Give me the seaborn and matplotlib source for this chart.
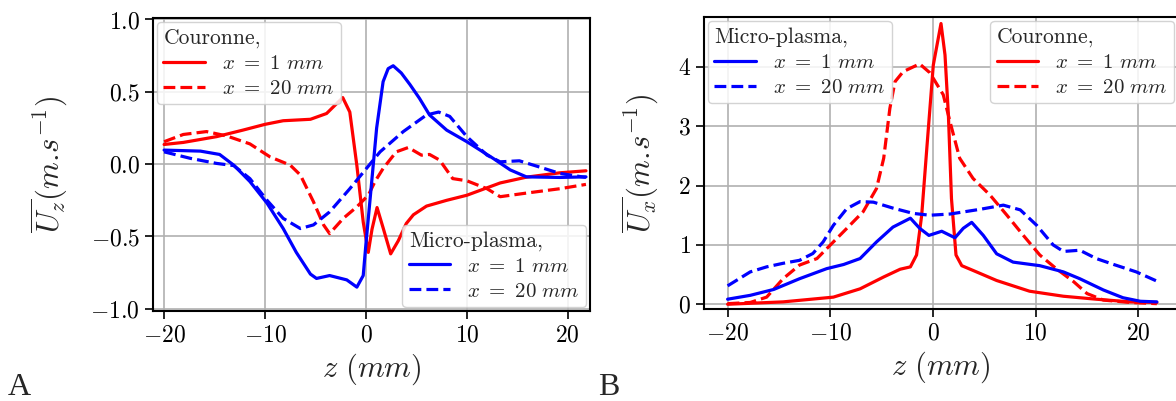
import matplotlib
matplotlib.use("Agg")
import matplotlib.pyplot as plt
import seaborn as sns
import pandas as pd

# ---- panel A : mean axial velocity U_z ----
z_a_cour1 = [-20, -18.1, -14.8, -12.2, -10.0, -8.2, -5.5, -3.9, -2.3, -1.6, -0.9, -0.27,
             0.23, 0.6, 1.1, 1.7, 2.45, 3.2, 4.0, 4.7, 6.0, 8.0, 10.0, 13.3, 15.9, 19.2, 21.8]
u_a_cour1 = [0.136, 0.15, 0.19, 0.235, 0.275, 0.30, 0.31, 0.35, 0.46, 0.36, -0.01, -0.40,
             -0.61, -0.45, -0.30, -0.44, -0.62, -0.53, -0.41, -0.35, -0.29, -0.25, -0.215,
             -0.13, -0.09, -0.06, -0.046]

z_a_cour20 = [-20, -18.1, -15.8, -13.8, -11.5, -9.5, -7.5, -6.5, -5.2, -4.2, -3.6, -2.25,
              -0.9, 0.23, 0.9, 1.7, 3.0, 4.2, 5.5, 6.3, 7.3, 8.6, 10.0, 12.0, 13.3, 15.9,
              19.2, 21.8]
u_a_cour20 = [0.155, 0.205, 0.225, 0.195, 0.14, 0.05, -0.007, -0.075, -0.26, -0.42, -0.48,
              -0.375, -0.295, -0.215, -0.12, -0.03, 0.085, 0.115, 0.062, 0.067, 0.028, -0.10,
              -0.115, -0.17, -0.225, -0.20, -0.17, -0.14]

z_a_micro1 = [-20, -16.4, -14.5, -13.1, -11.5, -9.8, -8.2, -6.9, -5.5, -4.9, -3.6, -1.9,
              -0.9, -0.27, 0.0, 0.4, 1.06, 1.7, 2.2, 2.7, 3.5, 4.36, 5.3, 6.3, 8.0, 10.0,
              12.6, 14.3, 15.9, 19.2, 21.8]
u_a_micro1 = [0.097, 0.09, 0.067, -0.007, -0.12, -0.27, -0.445, -0.61, -0.76, -0.79, -0.77,
              -0.80, -0.85, -0.77, -0.55, -0.25, 0.25, 0.57, 0.66, 0.68, 0.63, 0.55, 0.455,
              0.34, 0.235, 0.155, 0.04, -0.04, -0.088, -0.092, -0.088]

z_a_micro20 = [-20, -17.4, -14.8, -13.1, -11.5, -9.8, -8.2, -6.5, -5.2, -3.6, -1.6, -0.6,
               0.4, 1.4, 3.7, 6.0, 7.2, 8.3, 10.0, 12.0, 13.3, 15.2, 17.2, 19.2, 21.8]
u_a_micro20 = [0.085, 0.04, 0.005, -0.01, -0.10, -0.25, -0.375, -0.445, -0.42, -0.33, -0.17,
               -0.085, 0.0, 0.085, 0.225, 0.34, 0.36, 0.33, 0.19, 0.062, 0.016, 0.023, -0.02,
               -0.064, -0.092]

# ---- panel B : mean radial velocity U_x ----
z_b_cour1 = [-20, -14.6, -9.7, -7.1, -4.8, -3.2, -2.2, -1.6, -1.1, -0.6, 0.03, 0.78, 1.17,
             1.5, 1.8, 2.24, 2.8, 3.9, 6.2, 9.4, 12.7, 15.9, 19.2, 21.8]
u_b_cour1 = [0.0, 0.04, 0.12, 0.26, 0.46, 0.59, 0.63, 0.83, 1.5, 2.63, 4.03, 4.73, 4.2,
             3.19, 1.78, 0.83, 0.65, 0.57, 0.40, 0.22, 0.135, 0.085, 0.04, 0.03]

z_b_cour20 = [-20, -17.8, -16.2, -14.6, -13.0, -11.3, -9.7, -8.1, -6.8, -5.5, -4.8, -4.2,
              -3.7, -2.9, -1.3, -0.3, 1.0, 1.65, 2.6, 3.9, 5.55, 7.2, 8.8, 10.4, 12.0, 13.7,
              15.0, 16.6, 19.2, 21.8]
u_b_cour20 = [0.01, 0.03, 0.12, 0.43, 0.66, 0.77, 1.05, 1.33, 1.56, 1.95, 2.46, 3.30, 3.75,
              3.92, 4.05, 3.90, 3.53, 3.08, 2.46, 2.12, 1.84, 1.5, 1.16, 0.83, 0.60, 0.38,
              0.18, 0.07, 0.03, 0.01]

z_b_micro1 = [-20, -17.8, -15.5, -13.0, -10.35, -8.7, -7.1, -5.5, -3.9, -2.2, -1.3, -0.4,
              0.85, 2.14, 2.95, 3.77, 4.9, 6.2, 7.8, 10.4, 12.7, 14.3, 16.6, 18.5, 20.2, 21.8]
u_b_micro1 = [0.085, 0.15, 0.25, 0.43, 0.60, 0.67, 0.77, 1.05, 1.30, 1.45, 1.28, 1.16, 1.23,
              1.12, 1.28, 1.38, 1.16, 0.85, 0.71, 0.65, 0.545, 0.43, 0.24, 0.11, 0.05, 0.04]

z_b_micro20 = [-20, -17.8, -16.2, -14.6, -13.0, -11.7, -10.7, -9.7, -8.4, -7.1, -5.8, -3.9,
               -1.9, -0.3, 1.65, 4.6, 6.85, 8.5, 10.1, 11.7, 12.7, 14.3, 15.9, 17.6, 19.8, 21.8]
u_b_micro20 = [0.31, 0.545, 0.63, 0.69, 0.74, 0.855, 1.05, 1.33, 1.61, 1.73, 1.72, 1.62,
               1.53, 1.50, 1.52, 1.60, 1.67, 1.59, 1.33, 1.0, 0.89, 0.91, 0.77, 0.67, 0.545,
               0.39]

LBL_1 = r"$x\ =\ 1\ mm$"
LBL_20 = r"$x\ =\ 20\ mm$"

sns.set_style("whitegrid")
plt.rcParams.update({
    "font.family": ["cmr10", "DejaVu Serif"],
    "mathtext.fontset": "cm",
    "axes.formatter.use_mathtext": True,
    "axes.unicode_minus": True,
    "axes.edgecolor": "black",
    "axes.linewidth": 1.5,
    "grid.color": "#b0b0b0",
    "grid.linewidth": 1.2,
    "xtick.bottom": True, "ytick.left": True,
    "xtick.major.size": 6, "ytick.major.size": 6,
    "xtick.major.width": 1.2, "ytick.major.width": 1.2,
    "xtick.color": "black", "ytick.color": "black",
    "xtick.labelsize": 17, "ytick.labelsize": 17,
    "axes.labelsize": 22,
    "legend.fontsize": 15, "legend.title_fontsize": 15.5,
})

W, H = 1176, 401
fig = plt.figure(figsize=(W / 100, H / 100), dpi=100)
axA = fig.add_axes([153 / W, 1 - 311 / H, (590 - 153) / W, (311 - 18) / H])
axB = fig.add_axes([704 / W, 1 - 309 / H, (1178 - 704) / W, (309 - 17) / H])


def curve(ax, z, u, color, ls, label):
    sns.lineplot(x=z, y=u, ax=ax, color=color, linestyle=ls, linewidth=2.3, label=label,
                 legend=False)
    return ax.lines[-1]


def legend(ax, handles, title, loc):
    leg = ax.legend(handles=handles, labels=[LBL_1, LBL_20], title=title, loc=loc,
                    alignment="left", borderaxespad=0.2, frameon=True, fancybox=True,
                    framealpha=0.85, edgecolor="#cccccc", labelspacing=0.3,
                    handletextpad=0.8, borderpad=0.3)
    return leg


# panel A
ha1 = curve(axA, z_a_cour1, u_a_cour1, "red", "-", LBL_1)
ha2 = curve(axA, z_a_cour20, u_a_cour20, "red", "--", LBL_20)
hb1 = curve(axA, z_a_micro1, u_a_micro1, "blue", "-", LBL_1)
hb2 = curve(axA, z_a_micro20, u_a_micro20, "blue", "--", LBL_20)
axA.set_xlim(-21.1, 22.2)
axA.set_ylim(-1.015, 1.01)
axA.set_xticks([-20, -10, 0, 10, 20])
axA.set_yticks([-1.0, -0.5, 0.0, 0.5, 1.0])
axA.set_xlabel(r"$z\ (mm)$")
axA.set_ylabel(r"$\overline{U_z}(m.\!s^{-1})$")
leg1 = legend(axA, [ha1, ha2], "Couronne,", "upper left")
axA.add_artist(leg1)
legend(axA, [hb1, hb2], "Micro-plasma,", "lower right")

# panel B
hc1 = curve(axB, z_b_cour1, u_b_cour1, "red", "-", LBL_1)
hc2 = curve(axB, z_b_cour20, u_b_cour20, "red", "--", LBL_20)
hd1 = curve(axB, z_b_micro1, u_b_micro1, "blue", "-", LBL_1)
hd2 = curve(axB, z_b_micro20, u_b_micro20, "blue", "--", LBL_20)
axB.set_xlim(-22.3, 23.86)
axB.set_ylim(-0.08, 4.84)
axB.set_xticks([-20, -10, 0, 10, 20])
axB.set_yticks([0, 1, 2, 3, 4])
axB.set_xlabel(r"$z\ (mm)$")
axB.set_ylabel(r"$\overline{U_x}(m.\!s^{-1})$")
leg2 = legend(axB, [hd1, hd2], "Micro-plasma,", "upper left")
axB.add_artist(leg2)
legend(axB, [hc1, hc2], "Couronne,", "upper right")

for ax in (axA, axB):
    ax.grid(True)
    for s in ax.spines.values():
        s.set_color("black")

axA.yaxis.set_label_coords(-0.19, 0.5)
axB.yaxis.set_label_coords(-0.09, 0.5)

fig.text(8 / W, 1 - 395 / H, "A", family="Liberation Serif", fontsize=23, va="baseline")
fig.text(598 / W, 1 - 395 / H, "B", family="Liberation Serif", fontsize=23, va="baseline")

fig.savefig("out.png", dpi=100)
